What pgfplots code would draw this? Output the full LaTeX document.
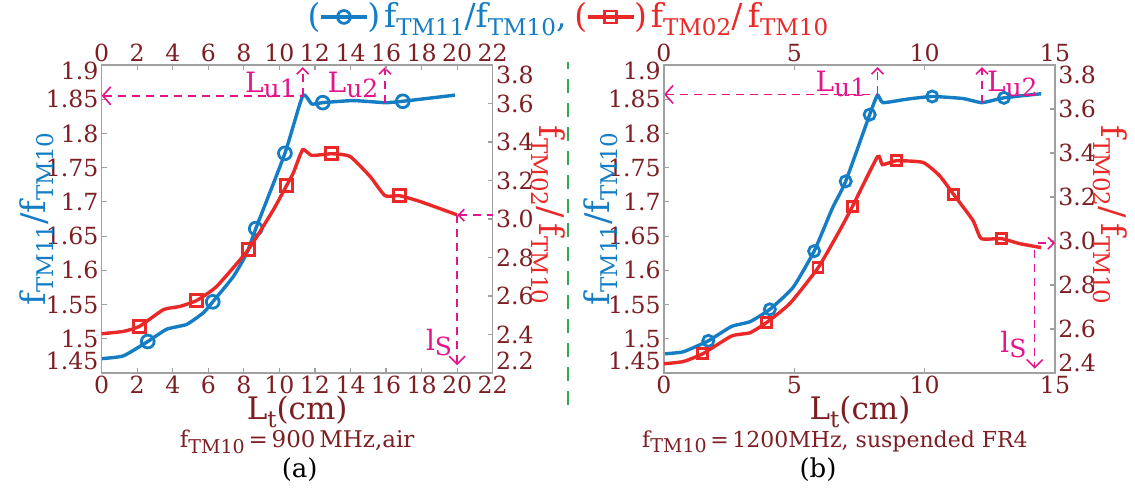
\documentclass[border=0pt]{standalone}
\usepackage{fontspec}
\setmainfont{DejaVu Serif}
\usepackage{pgfplots}
\pgfplotsset{compat=1.18}
\usetikzlibrary{arrows.meta}
\definecolor{tmblue}{RGB}{20,125,195}
\definecolor{tmred}{RGB}{235,40,40}
\definecolor{tickred}{RGB}{125,30,35}
\definecolor{annot}{RGB}{230,20,140}
\definecolor{sepgreen}{RGB}{50,170,90}
\definecolor{axgray}{RGB}{160,160,160}
\newcommand{\sub}[1]{\raisebox{-0.45ex}{\fontsize{11.5}{12}\selectfont #1}}
\newcommand{\lsub}[1]{\raisebox{-0.45ex}{\fontsize{11.5}{12}\selectfont #1}}
\newcommand{\csub}[1]{\raisebox{-0.45ex}{\fontsize{9.5}{10}\selectfont #1}}
\newcommand{\fr}[2]{f\sub{#1}/f\sub{#2}}
\newcommand{\frs}[2]{f\sub{#1}/\,f\sub{#2}}
\newcommand{\lfr}[2]{f\lsub{#1}/f\lsub{#2}}
\newcommand{\lfrs}[2]{f\lsub{#1}/\,f\lsub{#2}}
\newcommand{\asub}[1]{\raisebox{-0.35ex}{\fontsize{12.5}{13}\selectfont #1}}
\tikzset{
  ann/.style={draw=annot, line width=0.8pt, dash pattern=on 4pt off 3pt},
  anntext/.style={text=annot, font=\fontsize{14}{15}\selectfont, inner sep=1pt},
}
\begin{document}
\begin{tikzpicture}[x=1pt,y=1pt]
\path[use as bounding box] (-50.85,-59.5) rectangle (516.65,186.5);
\pgfplotsset{
  base/.style={scale only axis, width=195.5pt, height=154pt,
    axis line style={draw=axgray, line width=0.7pt},
    tick style={draw=axgray, line width=0.6pt},
    major tick length=2.5pt,
    tick label style={text=tickred, font=\fontsize{11.8}{12}\selectfont},
    xticklabel style={inner sep=1.5pt},
    clip=false},
  lowerax/.style={xtick pos=left, ytick pos=left, xticklabel pos=left, yticklabel pos=left,
    yticklabel style={anchor=base east, yshift=-4.3pt, inner sep=1.5pt}},
  upperax/.style={xtick pos=right, ytick pos=right, xticklabel pos=right, yticklabel pos=right,
    yticklabel style={anchor=base west, yshift=-4.3pt, inner sep=1.5pt}},
  blueline/.style={color=tmblue, line width=1.7pt, smooth, tension=0.3, mark=o, mark size=3.2pt, mark options={solid, fill=white, line width=1.4pt}},
  redline/.style={color=tmred, line width=1.7pt, smooth, tension=0.3, mark=square, mark size=3.0pt, mark options={solid, fill=white, line width=1.4pt}},
  bluelegend/.style={legend image code/.code={
     \node[inner sep=0pt, anchor=east, text=tmblue, font=\fontsize{16.5}{16.5}\selectfont] at (0.02cm,0pt) {(};
     \draw[##1, mark indices={2}] plot coordinates {(0cm,0cm) (0.4cm,0cm) (0.8cm,0cm)};
     \node[inner sep=0pt, anchor=west, text=tmblue, font=\fontsize{16.5}{16.5}\selectfont] at (0.78cm,0pt) {)};}},
  redlegend/.style={legend image code/.code={
     \node[inner sep=0pt, anchor=east, text=tmred, font=\fontsize{16.5}{16.5}\selectfont] at (0.02cm,0pt) {(};
     \draw[##1, mark indices={2}] plot coordinates {(0cm,0cm) (0.4cm,0cm) (0.8cm,0cm)};
     \node[inner sep=0pt, anchor=west, text=tmred, font=\fontsize{16.5}{16.5}\selectfont] at (0.78cm,0pt) {)};}},
}
% ---------------- (a) left y ----------------
\begin{axis}[base, lowerax, at={(0pt,0pt)}, anchor=south west,
  xmin=0, xmax=22, ymin=1.45, ymax=1.9,
  xtick={0,2,4,6,8,10,12,14,16,18,20,22},
  xticklabels={0,2,4,6,8,10,12,14,16,18,20,22},
  ytick={1.45,1.5,1.55,1.6,1.65,1.7,1.75,1.8,1.85,1.9},
  yticklabels={\raisebox{6pt}{1.45},1.5,1.55,1.6,1.65,1.7,1.75,1.8,1.85,\raisebox{-3pt}{1.9}}]
\addplot[blueline, mark indices={3,7,10,11,14,17}] coordinates {
(0,1.471) (1.22,1.475) (2.59,1.496) (3.66,1.514) (4.78,1.521) (5.72,1.538)
(6.25,1.554) (7.41,1.591) (8.16,1.625) (8.67,1.661) (10.31,1.771) (11.31,1.855)
(11.82,1.843) (12.44,1.845) (14.16,1.848) (15.94,1.845) (16.94,1.847) (19.88,1.856)};
\draw[ann, {Straight Barb[length=4pt,width=9pt]}-] (axis cs:0,1.855) -- (axis cs:11.31,1.855);
\draw[ann, -{Straight Barb[length=3pt,width=6pt]}] (axis cs:11.31,1.855) -- (axis cs:11.31,1.897);
\node[anntext, anchor=south east] at (axis cs:11.05,1.849) {L\asub{u1}};
\draw[ann, -{Straight Barb[length=3pt,width=6pt]}] (axis cs:15.94,1.845) -- (axis cs:15.94,1.897);
\node[anntext, anchor=south east] at (axis cs:15.7,1.849) {L\asub{u2}};
\end{axis}
% ---------------- (a) right y ----------------
\begin{axis}[base, upperax, at={(0pt,0pt)}, anchor=south west,
  xmin=0, xmax=22, ymin=2.2, ymax=3.8,
  xtick={0,2,4,6,8,10,12,14,16,18,20,22},
  xticklabels={0,2,4,6,8,10,12,14,16,18,20,22},
  ytick={2.2,2.4,2.6,2.8,3.0,3.2,3.4,3.6,3.8},
  yticklabels={\raisebox{6pt}{2.2},2.4,2.6,2.8,3.0,3.2,3.4,3.6,\raisebox{-5pt}{3.8}},
  legend style={at={(1.1977,1.156)}, anchor=center, draw=none, fill=none,
    font=\fontsize{16.5}{16.5}\selectfont, legend columns=2,
    /tikz/every even column/.append style={column sep=2pt}},
  legend cell align=left]
\addlegendimage{blueline, bluelegend}
\addlegendentry{\textcolor{tmblue}{\lfr{TM11}{TM10},}}
\addplot[redline, redlegend, mark indices={3,6,8,10,14,18}] coordinates {
(0,2.404) (1.22,2.416) (2.12,2.442) (3.47,2.529) (4.41,2.546) (5.35,2.577)
(6.47,2.65) (8.25,2.841) (9.66,3.048) (10.41,3.175) (10.78,3.239) (11.31,3.36)
(11.82,3.33) (12.94,3.339) (13.97,3.325) (15.1,3.221) (15.94,3.121) (16.75,3.121)
(17.91,3.091) (19.98,3.022)};
\addlegendentry{\textcolor{tmred}{\lfrs{TM02}{TM10}}}
\draw[ann, {Straight Barb[length=3pt,width=6pt]}-] (axis cs:20,3.02) -- (axis cs:22,3.02);
\draw[ann, -{Straight Barb[length=4pt,width=8pt]}] (axis cs:20,3.02) -- (axis cs:20,2.24);
\node[anntext, anchor=east] at (axis cs:19.85,2.36) {l\asub{S}};
\end{axis}
% ---------------- (b) left y ----------------
\begin{axis}[base, lowerax, at={(281.15pt,0pt)}, anchor=south west,
  xmin=0, xmax=15, ymin=1.45, ymax=1.9,
  xtick={0,5,10,15}, xticklabels={0,5,10,15},
  ytick={1.45,1.5,1.55,1.6,1.65,1.7,1.75,1.8,1.85,1.9},
  yticklabels={\raisebox{6pt}{1.45},1.5,1.55,1.6,1.65,1.7,1.75,1.8,1.85,\raisebox{-3pt}{1.9}}]
\addplot[blueline, mark size=2.8pt, mark indices={3,6,8,10,11,15,18}] coordinates {
(0,1.478) (0.74,1.481) (1.70,1.497) (2.59,1.518) (3.3,1.525) (4.06,1.543)
(4.95,1.575) (5.76,1.628) (6.45,1.69) (6.97,1.73) (7.89,1.8275) (8.19,1.856)
(8.4,1.845) (9.3,1.85) (10.29,1.854) (11.47,1.851) (12.2,1.845) (13.04,1.852) (14.47,1.858)};
\draw[ann, {Straight Barb[length=4pt,width=9pt]}-] (axis cs:0,1.857) -- (axis cs:8.19,1.857);
\draw[ann, -{Straight Barb[length=3pt,width=6pt]}] (axis cs:8.19,1.857) -- (axis cs:8.19,1.897);
\node[anntext, anchor=south east] at (axis cs:7.85,1.850) {L\asub{u1}};
\draw[ann, -{Straight Barb[length=3pt,width=6pt]}] (axis cs:12.2,1.845) -- (axis cs:12.2,1.897);
\node[anntext, anchor=south west] at (axis cs:12.3,1.850) {L\asub{u2}};
\end{axis}
% ---------------- (b) right y ----------------
\begin{axis}[base, upperax, at={(281.15pt,0pt)}, anchor=south west,
  xmin=0, xmax=15, ymin=2.4, ymax=3.8,
  xtick={0,5,10,15}, xticklabels={0,5,10,15},
  ytick={2.4,2.6,2.8,3.0,3.2,3.4,3.6,3.8},
  yticklabels={\raisebox{5pt}{2.4},2.6,2.8,3.0,3.2,3.4,3.6,\raisebox{-5pt}{3.8}}]
\addplot[redline, mark size=2.5pt, mark indices={3,6,8,10,13,16,19}] coordinates {
(0,2.442) (0.74,2.452) (1.48,2.487) (2.59,2.568) (3.3,2.583) (3.93,2.629)
(4.83,2.716) (5.91,2.878) (6.74,3.048) (7.23,3.157) (8.19,3.383) (8.38,3.347)
(8.92,3.365) (9.94,3.357) (10.57,3.297) (11.12,3.21) (11.85,3.094) (12.17,3.011)
(12.94,3.011) (13.64,2.988) (14.47,2.97)};
\draw[ann, -{Straight Barb[length=3pt,width=6pt]}] (axis cs:14.35,2.99) -- (axis cs:15,2.99);
\draw[ann, -{Straight Barb[length=4pt,width=8pt]}] (axis cs:14.22,2.96) -- (axis cs:14.22,2.42);
\node[anntext, anchor=east] at (axis cs:14.0,2.53) {l\asub{S}};
\end{axis}
% ---------------- axis titles and captions ----------------
\node[rotate=90, text=tmblue, font=\fontsize{17}{17}\selectfont, inner sep=0pt] at (-32.5,77) {\fr{TM11}{TM10}};
\node[rotate=-90, text=tmred, font=\fontsize{17}{17}\selectfont, inner sep=0pt] at (223.5,79) {\frs{TM02}{TM10}};
\node[rotate=90, text=tmblue, font=\fontsize{17}{17}\selectfont, inner sep=0pt] at (249.5,77) {\fr{TM11}{TM10}};
\node[rotate=-90, text=tmred, font=\fontsize{17}{17}\selectfont, inner sep=0pt] at (504.5,79) {\frs{TM02}{TM10}};
\draw[sepgreen, line width=0.8pt, dash pattern=on 7pt off 5pt] (233.15,-16) -- (233.15,155.5);
\node[text=tickred, font=\fontsize{15.5}{16}\selectfont, inner sep=0pt] at (97.75,-19.5) {L\lsub{t}(cm)};
\node[text=tickred, font=\fontsize{11.5}{12}\selectfont, inner sep=0pt] at (97.75,-34.5) {f\csub{TM10}\,=\,900\,MHz,air};
\node[font=\fontsize{13}{13}\selectfont, inner sep=0pt] at (99,-48.5) {(a)};
\node[text=tickred, font=\fontsize{15.5}{16}\selectfont, inner sep=0pt] at (379.15,-19.5) {L\lsub{t}(cm)};
\node[text=tickred, font=\fontsize{11}{12}\selectfont, inner sep=0pt] at (366.65,-34.5) {f\csub{TM10}\,=\,1200MHz, suspended FR4};
\node[font=\fontsize{13}{13}\selectfont, inner sep=0pt] at (358.15,-48.5) {(b)};
\end{tikzpicture}
\end{document}
